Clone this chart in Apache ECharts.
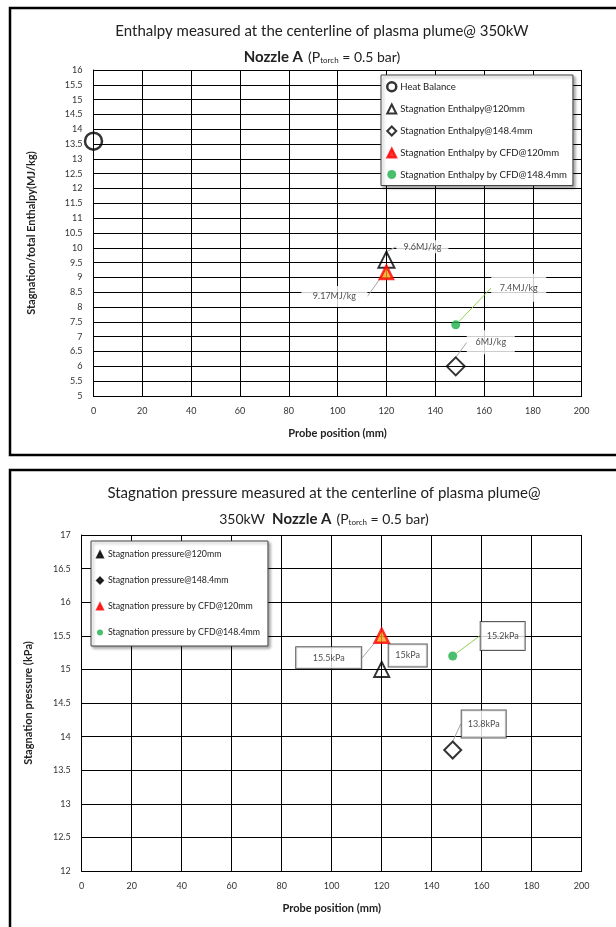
<!DOCTYPE html>
<html><head><meta charset="utf-8">
<script src="https://cdn.jsdelivr.net/npm/echarts@6/dist/echarts.min.js"></script>
<style>html,body{margin:0;padding:0;background:#fff}#c{width:616px;height:927px}</style>
</head><body><div id="c"></div>
<script>
// ---- data ----
const enthalpyNames = ['Heat Balance', 'Stagnation Enthalpy@120mm', 'Stagnation Enthalpy@148.4mm', 'Stagnation Enthalpy by CFD@120mm', 'Stagnation Enthalpy by CFD@148.4mm'];
const enthalpyX = [0, 120, 148.4, 120, 148.4];
const enthalpyY = [13.6, 9.6, 6, 9.17, 7.4];
const enthalpyLabels = ['', '9.6MJ/kg', '6MJ/kg', '9.17MJ/kg', '7.4MJ/kg'];

const pressureNames = ['Stagnation pressure@120mm', 'Stagnation pressure@148.4mm', 'Stagnation pressure by CFD@120mm', 'Stagnation pressure by CFD@148.4mm'];
const pressureX = [120, 148.4, 120, 148.4];
const pressureY = [15, 13.8, 15.5, 15.2];
const pressureLabels = ['15kPa', '13.8kPa', '15.5kPa', '15.2kPa'];

const xRange = [0, 200, 20];
const enthalpyRange = [5, 16, 0.5];
const pressureRange = [12, 17, 0.5];

// ---- styles ----
const FONT = 'Lato, "Open Sans", sans-serif';
const open = (c, w) => ({color: 'rgba(255,255,255,0)', borderColor: c, borderWidth: w});
const enthalpyStyle = [
  {symbol: 'circle', size: 17, item: open('#000', 2.5), leg: {color: '#fff', borderColor: '#000', borderWidth: 2.5}},
  {symbol: 'triangle', size: 16, item: open('#000', 2), leg: {color: '#fff', borderColor: '#000', borderWidth: 2}},
  {symbol: 'diamond', size: 18, item: open('#000', 2), leg: {color: '#fff', borderColor: '#000', borderWidth: 2}},
  {symbol: 'triangle', size: 13, item: {color: '#F7A11A', borderColor: '#FF0000', borderWidth: 2.5}, leg: {color: '#FF0000'}},
  {symbol: 'circle', size: 9, item: {color: '#1DB04B'}, leg: {color: '#1DB04B'}}
];
const enthalpyLabelPos = [null,
  {dx: 36, dy: -13, w: 52, h: 13, line: '#A6A6A6'},
  {dx: 35, dy: -24, w: 48, h: 24, line: '#A6A6A6'},
  {dx: -52, dy: 24, w: 66, h: 21, line: '#A6A6A6'},
  {dx: 63, dy: -37, w: 55, h: 28, line: '#92D050'}
];
const pressureStyle = [
  {symbol: 'triangle', size: 15, item: open('#000', 2), leg: {color: '#000'}},
  {symbol: 'diamond', size: 17, item: open('#000', 2), leg: {color: '#000'}},
  {symbol: 'triangle', size: 14, item: {color: '#F7A11A', borderColor: '#FF0000', borderWidth: 2.5}, leg: {color: '#FF0000'}},
  {symbol: 'circle', size: 9, item: {color: '#1DB04B'}, leg: {color: '#1DB04B'}}
];
const pressureLabelPos = [
  {dx: 26, dy: -14, w: 38, h: 22, line: null},
  {dx: 31, dy: -26, w: 44, h: 27, line: '#A6A6A6'},
  {dx: -53, dy: 22, w: 65, h: 21, line: '#A6A6A6'},
  {dx: 50, dy: -20, w: 44, h: 28, line: '#92D050'}
];

function makeSeries(names, xs, ys, labels, styles, pos, idx, boxed) {
  return names.map((n, i) => {
    const p = pos[i];
    const s = {
      name: n, type: 'scatter', xAxisIndex: idx, yAxisIndex: idx,
      symbol: styles[i].symbol, symbolSize: styles[i].size,
      itemStyle: styles[i].item,
      data: [[xs[i], ys[i]]],
      emphasis: {disabled: true}, z: 5
    };
    if (p) {
      s.label = {
        show: true, position: 'inside', formatter: labels[i],
        fontFamily: FONT, fontSize: 9, color: '#222',
        backgroundColor: '#fff', width: p.w, height: p.h, align: 'center', verticalAlign: 'middle',
        lineHeight: p.h, padding: 0,
        borderColor: boxed ? '#333' : 'transparent', borderWidth: boxed ? 1 : 0
      };
      s.labelLayout = {dx: p.dx, dy: p.dy, hideOverlap: false};
      s.labelLine = p.line ? {show: true, lineStyle: {color: p.line, width: 1}, length2: 0} : {show: false};
    }
    return s;
  });
}

const axisCommon = {
  axisLine: {show: true, lineStyle: {color: '#000', width: 1}},
  axisTick: {show: false},
  splitLine: {show: true, lineStyle: {color: '#000', width: 1}},
  axisLabel: {fontFamily: FONT, fontSize: 9, color: '#333', margin: 11},
  nameTextStyle: {fontFamily: FONT, fontSize: 11, fontWeight: 'bold', color: '#222'},
  nameLocation: 'middle'
};

const titleRich = {
  b: {fontFamily: FONT, fontSize: 15, fontWeight: 'bold', color: '#222'},
  n: {fontFamily: FONT, fontSize: 14, fontWeight: 'normal', color: '#222'},
  s: {fontFamily: FONT, fontSize: 8, fontWeight: 'normal', color: '#222', padding: [7, 0, 0, 0]}
};

const chart = echarts.init(document.getElementById('c'), null, {renderer: 'canvas'});
chart.setOption({
  animation: false,
  graphic: [
    {type: 'rect', shape: {x: 10, y: 8, width: 630, height: 447}, style: {fill: 'none', stroke: '#000', lineWidth: 2.5}, z: 0},
    {type: 'rect', shape: {x: 10, y: 470, width: 630, height: 480}, style: {fill: 'none', stroke: '#000', lineWidth: 2.5}, z: 0}
  ],
  title: [
    {text: 'Enthalpy measured at the centerline of plasma plume@ 350kW', left: 322, top: 24, textAlign: 'center', padding: 0,
      textStyle: {fontFamily: FONT, fontSize: 15, fontWeight: 'normal', color: '#222'}},
    {text: '{b|Nozzle A} {n|(P}{s|torch}{n| = 0.5 bar)}', left: 322, top: 48, textAlign: 'center', padding: 0,
      textStyle: {fontWeight: 'normal', rich: titleRich}},
    {text: 'Stagnation pressure measured at the centerline of plasma plume@', left: 324, top: 486, textAlign: 'center', padding: 0,
      textStyle: {fontFamily: FONT, fontSize: 15, fontWeight: 'normal', color: '#222'}},
    {text: '{n|350kW  }{b|Nozzle A} {n|(P}{s|torch}{n| = 0.5 bar)}', left: 324, top: 510, textAlign: 'center', padding: 0,
      textStyle: {fontWeight: 'normal', rich: titleRich}}
  ],
  legend: [
    {
      orient: 'vertical', left: 381, top: 75, padding: [6, 6, 6, 5], itemGap: 11,
      itemWidth: 9, itemHeight: 9, backgroundColor: '#fff', borderColor: '#444', borderWidth: 1,
      shadowColor: 'rgba(0,0,0,0.35)', shadowBlur: 3, shadowOffsetX: 2, shadowOffsetY: 2,
      textStyle: {fontFamily: FONT, fontSize: 9.6, color: '#222', padding: [0, 0, 0, -1]},
      data: enthalpyNames.map((n, i) => ({name: n, icon: enthalpyStyle[i].symbol, itemStyle: enthalpyStyle[i].leg})),
      selectedMode: false
    },
    {
      orient: 'vertical', left: 91, top: 541, padding: [9, 8, 9, 5], itemGap: 17,
      itemWidth: 6, itemHeight: 6, backgroundColor: '#fff', borderColor: '#444', borderWidth: 1,
      shadowColor: 'rgba(0,0,0,0.35)', shadowBlur: 3, shadowOffsetX: 2, shadowOffsetY: 2,
      textStyle: {fontFamily: FONT, fontSize: 8.8, color: '#222'},
      data: pressureNames.map((n, i) => ({name: n, icon: pressureStyle[i].symbol, itemStyle: pressureStyle[i].leg})),
      selectedMode: false
    }
  ],
  grid: [
    {left: 93.5, right: 34.3, top: 70, height: 326},
    {left: 81.7, right: 34.3, top: 535, height: 336}
  ],
  xAxis: [
    Object.assign({}, axisCommon, {gridIndex: 0, type: 'value', min: xRange[0], max: xRange[1], interval: xRange[2],
      name: 'Probe position (mm)', nameGap: 32}),
    Object.assign({}, axisCommon, {gridIndex: 1, type: 'value', min: xRange[0], max: xRange[1], interval: xRange[2],
      name: 'Probe position (mm)', nameGap: 32})
  ],
  yAxis: [
    Object.assign({}, axisCommon, {gridIndex: 0, type: 'value', min: enthalpyRange[0], max: enthalpyRange[1], interval: enthalpyRange[2],
      name: 'Stagnation/total Enthalpy(MJ/kg)', nameGap: 57}),
    Object.assign({}, axisCommon, {gridIndex: 1, type: 'value', min: pressureRange[0], max: pressureRange[1], interval: pressureRange[2],
      name: 'Stagnation pressure (kPa)', nameGap: 48})
  ],
  series: makeSeries(enthalpyNames, enthalpyX, enthalpyY, enthalpyLabels, enthalpyStyle, enthalpyLabelPos, 0, false)
    .concat(makeSeries(pressureNames, pressureX, pressureY, pressureLabels, pressureStyle, pressureLabelPos, 1, true))
});
</script>
</body></html>
